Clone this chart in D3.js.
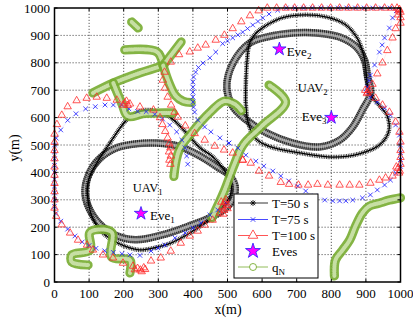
<!DOCTYPE html>
<html><head><meta charset="utf-8">
<script src="https://cdn.jsdelivr.net/npm/d3@7"></script>
<style>
body{margin:0;background:#fff}
svg{display:block}
text{font-family:"Liberation Serif","Times New Roman",serif;fill:#000}
</style>
</head><body>
<svg id="chart" width="413" height="324"></svg>
<script>
// ---------- DATA ----------
const xTicks = [0,100,200,300,400,500,600,700,800,900,1000];
const yTicks = [0,100,200,300,400,500,600,700,800,900,1000];

// T=100 s (red triangles)
const red1 = [[492,290],[500,280],[485,275],[495,300],[482,292],[490,262],[500,268],[488,248],
 [478,252],[457,226],[434,208],[414,186],[391,168],[365,142],[336,113],[307,88],[279,77],
 [258,52],[248,44],[240,50],[252,38],[262,46],[232,45],
 [227,58],[198,69],[169,88],[140,99],[111,117],[94,135],[68,153],[45,179],[21,209],[5,240],
 [0,270],[0,300],[0,330],[0,360],[0,390],[0,420],[0,450],[0,480],[0,510],[0,540],
 [7,575],[21,609],[38,640],[64,662],[93,671],[122,675],[151,671],[180,664],
 [203,653],[212,645],[198,646],[208,660],[218,650],
 [247,639],[286,628],[305,600],[312,575],[320,550],[327,526],
 [332,505],[335,490],[331,475],[336,460],[332,445],[335,430]];
const red2 = [[544,445],[515,471],[490,482],[463,496],[434,518],[405,542],[378,570],[356,602],[347,620],[337,646],[327,675],[319,708],[313,737],[318,766],[336,803],[360,830],[391,840],[414,854],[437,865],[466,883],[491,901],[515,925],[540,950],[565,972],[590,990],
 [615,1000],[642,1000],[668,1000],[694,1000],[720,1000],[746,1000],[772,1000],[798,1000],[824,1000],[850,1000],[876,1000],[902,1000],[928,1000],[954,1000],[975,1000],
 [990,1000],[997,995],[1000,985],[995,990],[1000,965],[993,975],
 [1000,945],[986,925],[977,891],[962,845],[948,800],[933,760],[919,722],
 [905,693],[898,700],[910,700],[903,688],
 [928,671],[948,646],[968,620],[986,584],[997,547],[1000,511],[1000,480],[1000,455],[1000,430],
 [993,415],[998,405],[988,420],[996,398],
 [977,387],[957,380],[939,372],[913,361],[881,354],[853,354],[824,354],[790,354],[760,357],[733,354],[705,354],[678,357],[654,364],[620,387],[591,405],[567,434],[544,445]];

// T=75 s (blue crosses)
const blue1 = [[496,288],[472,263],[449,245],[423,215],[400,197],[377,179],[348,161],[319,135],[299,124],[279,113],[247,97],[218,99],[195,103],[170,108],[145,114],[120,123],[100,133],[80,146],[59,168],[38,193],[18,222],[4,250],
 [0,275],[0,300],[0,325],[0,350],[0,375],[0,400],[0,425],[0,450],[0,475],[0,500],[5,525],[18,555],[38,590],[62,614],[90,632],[118,640],[146,646],[170,646],[194,646],[215,632],[240,623],[265,622],[290,612],[312,595],[333,573],[353,548],[368,518],[377,490],[382,460],[385,430]];
const blue2 = [[504,507],[530,489],[553,463],[582,441],[605,423],[631,405],[654,387],[677,369],[703,350],[726,332],[752,314],[781,299],[804,296],[824,296],[842,296],[862,299],[890,307],[913,318],[933,336],[954,354],[971,372],[986,398],[1000,422],[1000,447],[1000,472],[1000,500],[997,536],[986,573],[971,609],[954,635],[933,657],[913,675],[900,693],[905,712],[909,735],[913,755],[925,792],[939,839],[947,865],[954,891],[968,927],[977,964],[988,990],
 [970,1000],[945,1000],[920,1000],[895,1000],[870,1000],[845,1000],[820,1000],[795,1000],[770,1000],[745,1000],[720,1000],[695,1000],[670,1000],
 [645,992],[620,978],[602,964],[588,951],[573,938],[558,925],[544,912],[530,902],[515,891],[500,880],[486,870],[466,839],[449,818],[429,799],[416,783],[408,766],[402,748],[400,730],[400,711],[400,693],[400,675],[400,657],[402,638],[405,620],[414,591],[434,566],[452,548],[478,526],[504,507]];

// T=50 s (black asterisk trajectories)
const star1 = [[203,584],[160,507],[125,440],[100,380],[95,320],[105,250],[131,190],[165,155],[205,130],[247,117],[290,125],[336,142],[390,178],[434,215],[475,262],[506,310],[510,360],[490,410],[455,460],[420,490],[382,543],[350,585],[324,609],[267,628],[230,612]];
const star2 = [[564,872],[556,800],[553,720],[553,650],[560,580],[580,525],[620,495],[709,471],[805,456],[881,468],[939,500],[966,550],[962,605],[935,650],[908,695],[902,748],[895,820],[875,890],[840,940],[790,966],[726,975],[660,965],[610,935],[580,905]];

// black circle trajectories
const circ1 = [[88,325],[100,395],[130,450],[180,490],[240,505],[296,507],[360,495],[420,460],[470,420],[505,390],[522,350],[515,300],[490,265],[450,235],[390,205],[320,175],[247,155],[200,160],[151,190],[110,245]];
const circ2 = [[498,712],[516,799],[564,872],[613,894],[689,909],[756,909],[824,894],[872,858],[896,810],[905,748],[914,690],[890,628],[862,566],[824,518],[766,493],[689,507],[613,544],[555,591],[516,639]];

// q_N (green) pieces
const qN = [
 [[223,949],[242,927]],
 [[111,690],[170,726],[247,763],[314,790]],
 [[203,847],[296,840],[314,790]],
 [[314,790],[366,876]],
 [[314,790],[330,730],[350,680],[372,660],[395,655]],
 [[170,726],[195,650],[212,605],[260,615],[343,617]],
 [[345,385],[360,480],[400,550],[450,620],[490,660],[520,650],[540,625]],
 [[455,234],[490,330],[520,430],[545,500],[600,570],[668,657],[620,719]],
 [[218,33],[218,80],[165,91],[165,182],[103,182],[103,117],[50,99],[50,73],[97,62]],
 [[809,22],[812,80],[833,117],[853,153],[870,204],[890,252],[910,277],[939,288],[968,299],[1000,307]]
];

const eves = [[250,250],[650,850],[800,600]];
const legendLabels = ["T=50 s","T=75 s","T=100 s","Eves","q"];

// ---------- CHART ----------
const svg = d3.select("#chart");
const x = d3.scaleLinear([0,1000],[54.5,400.5]);
const y = d3.scaleLinear([0,1000],[282,8]);

// grid
const grid = svg.append("g").attr("stroke","#333").attr("stroke-width",0.8).attr("stroke-dasharray","1.2 1.8");
xTicks.slice(1,-1).forEach(t=>grid.append("line").attr("x1",x(t)).attr("x2",x(t)).attr("y1",y(0)).attr("y2",y(1000)));
yTicks.slice(1,-1).forEach(t=>grid.append("line").attr("y1",y(t)).attr("y2",y(t)).attr("x1",x(0)).attr("x2",x(1000)));

const lineClosed = d3.line().x(d=>x(d[0])).y(d=>y(d[1])).curve(d3.curveCatmullRomClosed.alpha(0.5));
const lineOpen = d3.line().x(d=>x(d[0])).y(d=>y(d[1])).curve(d3.curveCatmullRom.alpha(0.5));
const lineLin = d3.line().x(d=>x(d[0])).y(d=>y(d[1]));

// black circle chains
[circ1,circ2].forEach(c=>{
  const d = lineClosed(c);
  svg.append("path").attr("d",d).attr("fill","none").attr("stroke","#7a7a7a").attr("stroke-width",7.5);
  svg.append("path").attr("d",d).attr("fill","none").attr("stroke","#000").attr("stroke-width",7.5).attr("stroke-dasharray","0.8 1.2").attr("opacity",0.8);
  svg.append("path").attr("d",d).attr("fill","none").attr("stroke","#ddd").attr("stroke-width",2.6).attr("opacity",0.6);
});
// black asterisk chains
[star1,star2].forEach(c=>{
  const d = lineClosed(c);
  svg.append("path").attr("d",d).attr("fill","none").attr("stroke","#000").attr("stroke-width",4.5).attr("stroke-dasharray","0.9 0.8").attr("opacity",0.8);
  svg.append("path").attr("d",d).attr("fill","none").attr("stroke","#000").attr("stroke-width",1.3);
});

// green q_N
const gq = svg.append("g").attr("fill","none").attr("stroke-linecap","round").attr("stroke-linejoin","round");
qN.forEach(seg=>{
  const d = lineOpen(seg);
  gq.append("path").attr("d",d).attr("stroke","#77ac30").attr("stroke-width",9.2).attr("opacity",0.9);
  gq.append("path").attr("d",d).attr("stroke","#d2e6b5").attr("stroke-width",4).attr("stroke-dasharray","1 1.2").attr("opacity",0.85);
});

// blue T=75
const crossPath = "M-2.3,-2.3L2.3,2.3M-2.3,2.3L2.3,-2.3";
[blue1,blue2].forEach(b=>{
  svg.append("path").attr("d",lineLin(b)).attr("fill","none").attr("stroke","#6060ff").attr("stroke-width",0.4).attr("opacity",0.3);
  svg.append("g").selectAll("path").data(b).join("path")
    .attr("transform",d=>`translate(${x(d[0])},${y(d[1])})`).attr("d",crossPath)
    .attr("stroke","#1a1aff").attr("stroke-width",0.8).attr("fill","none");
});
// red T=100
const tri = d3.symbol().type(d3.symbolTriangle).size(24);
[red1,red2].forEach(r=>{
  svg.append("path").attr("d",lineLin(r)).attr("fill","none").attr("stroke","#ff6060").attr("stroke-width",0.4).attr("opacity",0.3);
  svg.append("g").selectAll("path").data(r).join("path")
    .attr("transform",d=>`translate(${x(d[0])},${y(d[1])})`).attr("d",tri)
    .attr("stroke","#ff2a2a").attr("stroke-width",0.8).attr("fill","none");
});

// Eves
const starSym = d3.symbol().type(d3.symbolStar).size(55);
svg.append("g").selectAll("path").data(eves).join("path")
  .attr("transform",d=>`translate(${x(d[0])},${y(d[1])})`).attr("d",starSym)
  .attr("fill","#ff00ff").attr("stroke","#2020ff").attr("stroke-width",0.8);

// labels
function sublabel(tx,ty,main,sub,anchor,size){
  const t = svg.append("text").attr("x",x(tx)).attr("y",y(ty)).attr("font-size",size).attr("text-anchor",anchor||"start");
  t.append("tspan").text(main);
  t.append("tspan").attr("font-size",size*0.7).attr("dy",3).text(sub);
}
sublabel(226,327,"UAV","1","start",12.5);
sublabel(703,692,"UAV","2","start",12.5);
sublabel(276,226,"Eve","1","start",13);
sublabel(671,825,"Eve","2","start",13);
sublabel(786,588,"Eve","3","end",13);

// axes frame & ticks
const ax = svg.append("g");
ax.append("rect").attr("x",x(0)).attr("y",y(1000)).attr("width",x(1000)-x(0)).attr("height",y(0)-y(1000))
  .attr("fill","none").attr("stroke","#000").attr("stroke-width",1.5);
xTicks.forEach(t=>{
  ax.append("line").attr("x1",x(t)).attr("x2",x(t)).attr("y1",y(0)).attr("y2",y(0)-3).attr("stroke","#000");
  ax.append("line").attr("x1",x(t)).attr("x2",x(t)).attr("y1",y(1000)).attr("y2",y(1000)+3).attr("stroke","#000");
  ax.append("text").attr("x",x(t)).attr("y",298).attr("text-anchor","middle").attr("font-size",13).text(t);
});
yTicks.forEach(t=>{
  ax.append("line").attr("y1",y(t)).attr("y2",y(t)).attr("x1",x(0)).attr("x2",x(0)+3).attr("stroke","#000");
  ax.append("line").attr("y1",y(t)).attr("y2",y(t)).attr("x1",x(1000)).attr("x2",x(1000)-3).attr("stroke","#000");
  ax.append("text").attr("x",50).attr("y",y(t)+4.5).attr("text-anchor","end").attr("font-size",13).text(t);
});
svg.append("text").attr("x",228).attr("y",314).attr("text-anchor","middle").attr("font-size",14).text("x(m)");
svg.append("text").attr("transform","translate(19,148) rotate(-90)").attr("text-anchor","middle").attr("font-size",14).text("y(m)");

// legend
const lg = svg.append("g");
lg.append("rect").attr("x",234).attr("y",194).attr("width",84).attr("height",84).attr("fill","#fff").attr("stroke","#000").attr("stroke-width",1);
const ly = [203,219.5,235.5,251,267];
const lcol = ["#000","#1a1aff","#ff2a2a",null,"#77ac30"];
ly.forEach((yy,i)=>{
  if(lcol[i]) lg.append("line").attr("x1",238).attr("x2",268).attr("y1",yy).attr("y2",yy).attr("stroke",lcol[i]).attr("stroke-width",0.8);
  const g = lg.append("g").attr("transform",`translate(253,${yy})`);
  if(i===0) g.append("path").attr("d","M-3,0L3,0M0,-3L0,3M-2.2,-2.2L2.2,2.2M-2.2,2.2L2.2,-2.2").attr("stroke","#000").attr("stroke-width",0.8);
  if(i===1) g.append("path").attr("d",crossPath).attr("stroke","#1a1aff").attr("stroke-width",0.8);
  if(i===2) g.append("path").attr("d",d3.symbol().type(d3.symbolTriangle).size(40)()).attr("stroke","#ff2a2a").attr("fill","#fff").attr("stroke-width",0.8);
  if(i===3) g.append("path").attr("d",d3.symbol().type(d3.symbolStar).size(70)()).attr("fill","#ff00ff").attr("stroke","#2020ff").attr("stroke-width",0.8);
  if(i===4) g.append("circle").attr("r",3.5).attr("fill","#fff").attr("stroke","#77ac30").attr("stroke-width",0.9);
  const t = lg.append("text").attr("x",272).attr("y",yy+4.5).attr("font-size",13);
  t.append("tspan").text(legendLabels[i]);
  if(i===4) t.append("tspan").attr("font-size",9).attr("dy",3.5).text("N");
});
</script>
</body></html>
